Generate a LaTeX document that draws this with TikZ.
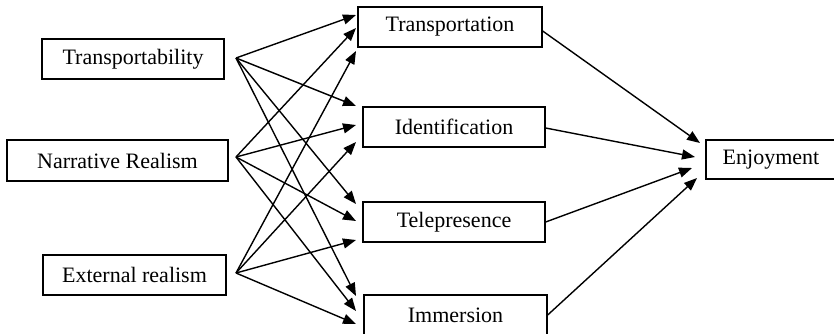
\documentclass[tikz,border=0pt]{standalone}
\usepackage{fontspec}
\setmainfont{Liberation Serif}
\usetikzlibrary{arrows.meta}
\begin{document}
\begin{tikzpicture}[x=1pt,y=-1pt,
  box/.style={draw,line width=1.3pt,minimum height=40pt,inner sep=0pt,
    font=\fontsize{22}{26}\selectfont},
  link/.style={line width=1.4pt,-{Triangle[length=13pt,width=10pt]}}]
\useasboundingbox (0,0) rectangle (834,333);

% predictors
\node[box,minimum width=182pt] (tr) at (133,59) {Transportability\hspace{12pt}};
\node[box,minimum width=221pt,minimum height=41pt] (nr) at (117.5,160.5) {Narrative Realism};
\node[box,minimum width=183pt] (er) at (134.5,275) {External realism\hspace{6pt}};

% mediators
\node[box,minimum width=184pt] (tn) at (450,27) {Transportation};
\node[box,minimum width=182pt] (id) at (454,127) {Identification};
\node[box,minimum width=182pt] (tp) at (454,222) {Telepresence};
\node[box,minimum width=183pt] (im) at (455.5,315) {Immersion};

% outcome
\node[box,minimum width=130pt,minimum height=39pt] (en) at (771,159.5) {Enjoyment};

% fan-out points right of the predictor boxes
\coordinate (trO) at (236,58);
\coordinate (nrO) at (236,157);
\coordinate (erO) at (236,273);

% arrow tips left of the mediator boxes
\coordinate (tn1) at (356,15);  \coordinate (tn2) at (356,28);  \coordinate (tn3) at (356,51);
\coordinate (id1) at (356,106); \coordinate (id2) at (356,125); \coordinate (id3) at (356,142);
\coordinate (tp1) at (356,204); \coordinate (tp2) at (356,221); \coordinate (tp3) at (356,240);
\coordinate (im1) at (356,296); \coordinate (im2) at (356,311); \coordinate (im3) at (356,324);

\foreach \s/\k in {trO/1,nrO/2,erO/3}
  \foreach \m in {tn,id,tp,im}
    \draw[link] (\s) -- (\m\k);

% arrow tips left of the outcome box
\coordinate (en1) at (700,143);
\coordinate (en2) at (695,157);
\coordinate (en3) at (692,168);
\coordinate (en4) at (697,178);

\draw[link] ([yshift=-4pt]tn.east) -- (en1);
\draw[link] ([yshift=-1pt]id.east) -- (en2);
\draw[link] (tp.east) -- (en3);
\draw[link] (im.east) -- (en4);
\end{tikzpicture}
\end{document}
